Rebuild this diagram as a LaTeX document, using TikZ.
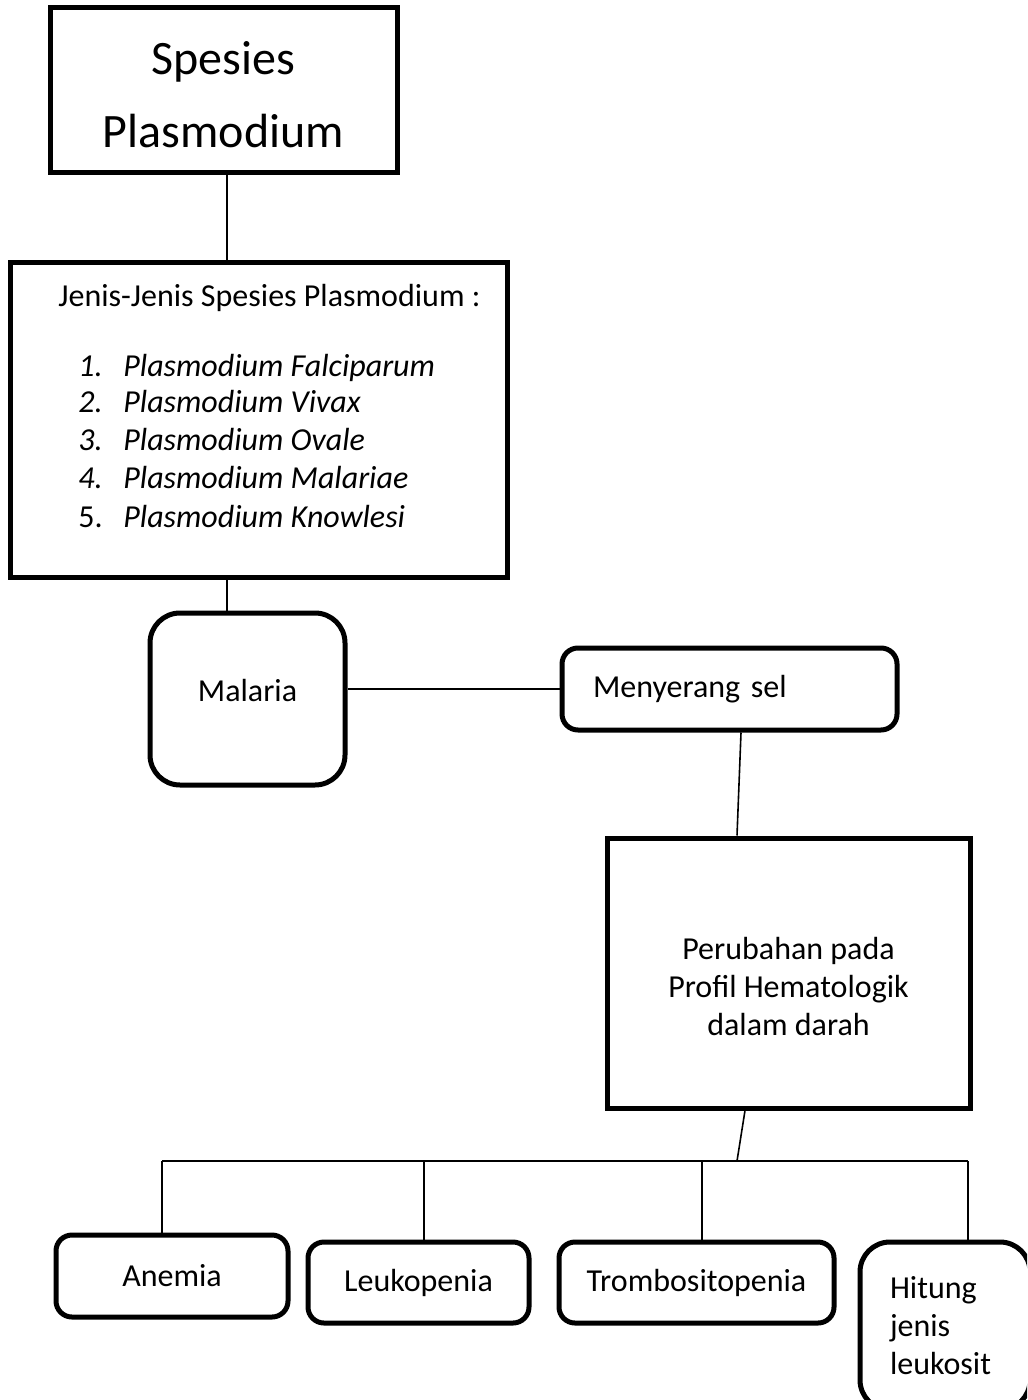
\documentclass[tikz,border=0pt]{standalone}
\usepackage{fontspec}
\setmainfont{Carlito}
\begin{document}
\begin{tikzpicture}[x=0.5pt,y=-0.5pt,
  base/.style={draw=black, line width=2.5pt, fill=white, inner sep=0pt,
     font=\fontsize{16}{19}\selectfont, align=center},
  sqbox/.style={base},
  rbox/.style={base, rounded corners=8pt},
  rbig/.style={base, rounded corners=15pt},
  conn/.style={draw=black, line width=1.1pt},
  thin/.style={draw=black, line width=0.8pt},
  txt/.style={inner sep=0pt, anchor=base west, font=\fontsize{16}{19}\selectfont}
]
\fill[white] (0,0) rectangle (1027,1400);
\useasboundingbox (0,0) rectangle (1027,1400);

% top box
\node[sqbox, minimum width=173.5pt, minimum height=82.5pt] (sp) at (223.5,90.5) {};
\node[inner sep=0pt, align=center, font=\fontsize{24}{36.5}\selectfont] (spt) at (223.5,95)
   {Spesies\\Plasmodium};

% list box
\node[sqbox, minimum width=248.5pt, minimum height=157pt] (jenis) at (258.5,420) {};
\node[txt] (jh) at (58,307) {Jenis-Jenis Spesies Plasmodium :};
\foreach \i/\t/\y in {1/Falciparum/377, 2/Vivax/413, 3/Ovale/451, 4/Malariae/488}{
  \node[txt] (jn\i) at (78,\y) {\textit{\i.}};
  \node[txt] (jt\i) at (123,\y) {\textit{Plasmodium \t}};
}
\node[txt] (jn5) at (78,527) {5.};
\node[txt] (jt5) at (123,527) {\textit{Plasmodium Knowlesi}};

% Malaria and Menyerang sel
\node[rbig, minimum width=97.5pt, minimum height=86pt, text depth=9pt] (mal) at (247.5,699) {Malaria};
\node[rbox, minimum height=41pt, text width=136.5pt, inner xsep=15.5pt, align=left] (men) at (729.5,689) {Menyerang sel};

% Perubahan
\node[sqbox, minimum width=181.5pt, minimum height=135pt] (per) at (788.5,973) {};
\node[inner sep=0pt, align=center, font=\fontsize{16}{19}\selectfont] (pert) at (788.5,986)
   {Perubahan pada\\Profil Hematologik\\dalam darah};

% bottom boxes
\node[rbox, minimum width=116pt, minimum height=41pt] (ane) at (172,1276) {Anemia};
\node[rbox, minimum width=110.5pt, minimum height=40.5pt] (leu) at (418.5,1282.5) {Leukopenia};
\node[rbox, minimum width=137.5pt, minimum height=40.5pt] (tro) at (696.5,1282.5) {Trombositopenia};
\begin{scope}
\clip (0,0) rectangle (1027,1400);
\node[rbig, minimum height=84pt, text width=55pt, inner xsep=15pt, align=left] (hit) at (945,1326)
   {Hitung\\jenis\\leukosit};
\end{scope}

% connectors
\coordinate (cx) at (227,0);
\draw[conn] (sp.south -| cx) -- (jenis.north -| cx);
\draw[conn] (jenis.south -| cx) -- (mal.north -| cx);
\draw[conn] (men.west) -- (men.west -| mal.east);
\draw[thin] ([xshift=5.75pt]men.south) -- ([xshift=-25.75pt]per.north);
\coordinate (bj) at (737,1161);
\coordinate (b1) at (162,1161);
\coordinate (b2) at (424,1161);
\coordinate (b3) at (702,1161);
\coordinate (b4) at (968,1161);
\draw[thin] ([xshift=-21.75pt]per.south) -- (bj);
\draw[conn] (b1) -- (b4);
\draw[conn] (b1) -- (b1 |- ane.north);
\draw[conn] (b2) -- (b2 |- leu.north);
\draw[thin] (b3) -- (b3 |- tro.north);
\draw[thin] (b4) -- (b4 |- hit.north);
\end{tikzpicture}
\end{document}
